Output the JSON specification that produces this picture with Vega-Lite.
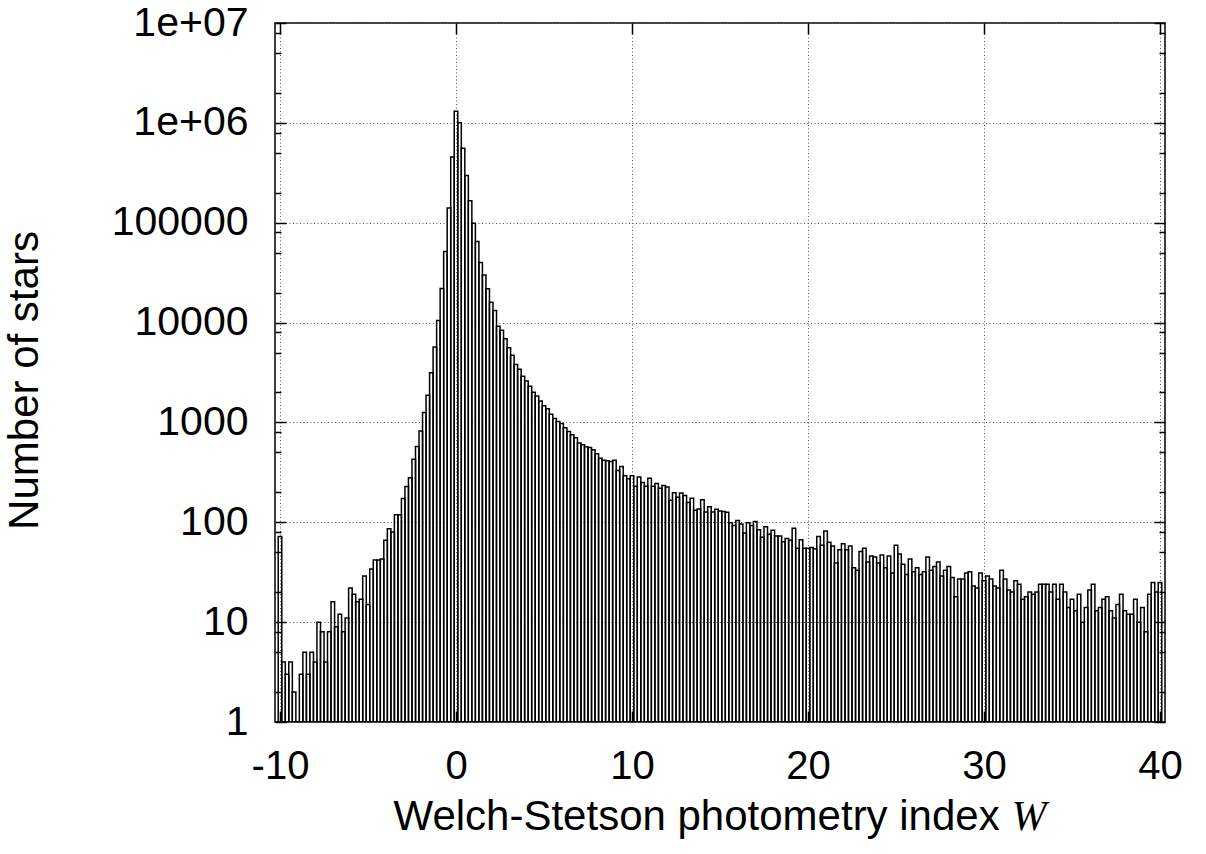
{
  "$schema": "https://vega.github.io/schema/vega-lite/v6.json",
  "width": 890,
  "height": 699,
  "autosize": {"type": "none"},
  "padding": {"left": 275, "top": 23, "right": 41, "bottom": 132},
  "background": "white",
  "data": {"values": [
    {"w": -10.0, "n": 72}, {"w": -9.8, "n": 4}, {"w": -9.6, "n": 3}, {"w": -9.4, "n": 4}, {"w": -9.2, "n": 2},
    {"w": -9.0, "n": 1}, {"w": -8.8, "n": 3}, {"w": -8.6, "n": 5}, {"w": -8.4, "n": 3}, {"w": -8.2, "n": 5},
    {"w": -8.0, "n": 4}, {"w": -7.8, "n": 10}, {"w": -7.6, "n": 8}, {"w": -7.4, "n": 4}, {"w": -7.2, "n": 8},
    {"w": -7.0, "n": 16}, {"w": -6.8, "n": 9}, {"w": -6.6, "n": 12}, {"w": -6.4, "n": 8}, {"w": -6.2, "n": 11},
    {"w": -6.0, "n": 22}, {"w": -5.8, "n": 19}, {"w": -5.6, "n": 16}, {"w": -5.4, "n": 17}, {"w": -5.2, "n": 29},
    {"w": -5.0, "n": 15}, {"w": -4.8, "n": 34}, {"w": -4.6, "n": 42}, {"w": -4.4, "n": 42}, {"w": -4.2, "n": 43},
    {"w": -4.0, "n": 66}, {"w": -3.8, "n": 86}, {"w": -3.6, "n": 80}, {"w": -3.4, "n": 119}, {"w": -3.2, "n": 119},
    {"w": -3.0, "n": 173}, {"w": -2.8, "n": 228}, {"w": -2.6, "n": 279}, {"w": -2.4, "n": 429}, {"w": -2.2, "n": 574},
    {"w": -2.0, "n": 819}, {"w": -1.8, "n": 1260}, {"w": -1.6, "n": 1870}, {"w": -1.4, "n": 3150}, {"w": -1.2, "n": 5700},
    {"w": -1.0, "n": 10500}, {"w": -0.8, "n": 22000}, {"w": -0.6, "n": 51500}, {"w": -0.4, "n": 140000}, {"w": -0.2, "n": 456000},
    {"w": 0.0, "n": 1310000}, {"w": 0.2, "n": 1000000}, {"w": 0.4, "n": 557000}, {"w": 0.6, "n": 297000}, {"w": 0.8, "n": 166000},
    {"w": 1.0, "n": 99000}, {"w": 1.2, "n": 65000}, {"w": 1.4, "n": 40000}, {"w": 1.6, "n": 30000}, {"w": 1.8, "n": 21800},
    {"w": 2.0, "n": 16000}, {"w": 2.2, "n": 13200}, {"w": 2.4, "n": 9200}, {"w": 2.6, "n": 8400}, {"w": 2.8, "n": 6900},
    {"w": 3.0, "n": 5600}, {"w": 3.2, "n": 4700}, {"w": 3.4, "n": 3800}, {"w": 3.6, "n": 3400}, {"w": 3.8, "n": 2900},
    {"w": 4.0, "n": 2600}, {"w": 4.2, "n": 2300}, {"w": 4.4, "n": 2000}, {"w": 4.6, "n": 1840}, {"w": 4.8, "n": 1640},
    {"w": 5.0, "n": 1470}, {"w": 5.2, "n": 1370}, {"w": 5.4, "n": 1210}, {"w": 5.6, "n": 1096}, {"w": 5.8, "n": 1023},
    {"w": 6.0, "n": 977}, {"w": 6.2, "n": 885}, {"w": 6.4, "n": 813}, {"w": 6.6, "n": 753}, {"w": 6.8, "n": 703},
    {"w": 7.0, "n": 621}, {"w": 7.2, "n": 598}, {"w": 7.4, "n": 571}, {"w": 7.6, "n": 562}, {"w": 7.8, "n": 533},
    {"w": 8.0, "n": 486}, {"w": 8.2, "n": 437}, {"w": 8.4, "n": 417}, {"w": 8.6, "n": 414}, {"w": 8.8, "n": 407},
    {"w": 9.0, "n": 417}, {"w": 9.2, "n": 331}, {"w": 9.4, "n": 363}, {"w": 9.6, "n": 293}, {"w": 9.8, "n": 273},
    {"w": 10.0, "n": 293}, {"w": 10.2, "n": 229}, {"w": 10.4, "n": 284}, {"w": 10.6, "n": 251}, {"w": 10.8, "n": 229},
    {"w": 11.0, "n": 276}, {"w": 11.2, "n": 229}, {"w": 11.4, "n": 244}, {"w": 11.6, "n": 219}, {"w": 11.8, "n": 233},
    {"w": 12.0, "n": 226}, {"w": 12.2, "n": 166}, {"w": 12.4, "n": 198}, {"w": 12.6, "n": 178}, {"w": 12.8, "n": 197},
    {"w": 13.0, "n": 185}, {"w": 13.2, "n": 158}, {"w": 13.4, "n": 174}, {"w": 13.6, "n": 132}, {"w": 13.8, "n": 136},
    {"w": 14.0, "n": 168}, {"w": 14.2, "n": 127}, {"w": 14.4, "n": 143}, {"w": 14.6, "n": 127}, {"w": 14.8, "n": 135},
    {"w": 15.0, "n": 130}, {"w": 15.2, "n": 128}, {"w": 15.4, "n": 126}, {"w": 15.6, "n": 99}, {"w": 15.8, "n": 93},
    {"w": 16.0, "n": 104}, {"w": 16.2, "n": 96}, {"w": 16.4, "n": 78}, {"w": 16.6, "n": 99}, {"w": 16.8, "n": 93},
    {"w": 17.0, "n": 102}, {"w": 17.2, "n": 84}, {"w": 17.4, "n": 71}, {"w": 17.6, "n": 90}, {"w": 17.8, "n": 76},
    {"w": 18.0, "n": 83}, {"w": 18.2, "n": 73}, {"w": 18.4, "n": 73}, {"w": 18.6, "n": 64}, {"w": 18.8, "n": 69},
    {"w": 19.0, "n": 66}, {"w": 19.2, "n": 87}, {"w": 19.4, "n": 55}, {"w": 19.6, "n": 67}, {"w": 19.8, "n": 55},
    {"w": 20.0, "n": 55}, {"w": 20.2, "n": 56}, {"w": 20.4, "n": 54}, {"w": 20.6, "n": 72}, {"w": 20.8, "n": 59},
    {"w": 21.0, "n": 82}, {"w": 21.2, "n": 63}, {"w": 21.4, "n": 58}, {"w": 21.6, "n": 39}, {"w": 21.8, "n": 53},
    {"w": 22.0, "n": 61}, {"w": 22.2, "n": 53}, {"w": 22.4, "n": 58}, {"w": 22.6, "n": 35}, {"w": 22.8, "n": 33},
    {"w": 23.0, "n": 51}, {"w": 23.2, "n": 55}, {"w": 23.4, "n": 40}, {"w": 23.6, "n": 46}, {"w": 23.8, "n": 45},
    {"w": 24.0, "n": 39}, {"w": 24.2, "n": 47}, {"w": 24.4, "n": 35}, {"w": 24.6, "n": 46}, {"w": 24.8, "n": 31},
    {"w": 25.0, "n": 59}, {"w": 25.2, "n": 48}, {"w": 25.4, "n": 38}, {"w": 25.6, "n": 30}, {"w": 25.8, "n": 43},
    {"w": 26.0, "n": 32}, {"w": 26.2, "n": 35}, {"w": 26.4, "n": 30}, {"w": 26.6, "n": 32}, {"w": 26.8, "n": 45},
    {"w": 27.0, "n": 33}, {"w": 27.2, "n": 36}, {"w": 27.4, "n": 40}, {"w": 27.6, "n": 29}, {"w": 27.8, "n": 33},
    {"w": 28.0, "n": 36}, {"w": 28.2, "n": 28}, {"w": 28.4, "n": 18}, {"w": 28.6, "n": 27}, {"w": 28.8, "n": 27},
    {"w": 29.0, "n": 31}, {"w": 29.2, "n": 32}, {"w": 29.4, "n": 23}, {"w": 29.6, "n": 22}, {"w": 29.8, "n": 31},
    {"w": 30.0, "n": 26}, {"w": 30.2, "n": 29}, {"w": 30.4, "n": 27}, {"w": 30.6, "n": 23}, {"w": 30.8, "n": 22},
    {"w": 31.0, "n": 33}, {"w": 31.2, "n": 27}, {"w": 31.4, "n": 21}, {"w": 31.6, "n": 20}, {"w": 31.8, "n": 26},
    {"w": 32.0, "n": 24}, {"w": 32.2, "n": 17}, {"w": 32.4, "n": 18}, {"w": 32.6, "n": 20}, {"w": 32.8, "n": 19},
    {"w": 33.0, "n": 20}, {"w": 33.2, "n": 24}, {"w": 33.4, "n": 24}, {"w": 33.6, "n": 24}, {"w": 33.8, "n": 20},
    {"w": 34.0, "n": 24}, {"w": 34.2, "n": 17}, {"w": 34.4, "n": 24}, {"w": 34.6, "n": 20}, {"w": 34.8, "n": 14},
    {"w": 35.0, "n": 17}, {"w": 35.2, "n": 13}, {"w": 35.4, "n": 19}, {"w": 35.6, "n": 10}, {"w": 35.8, "n": 14},
    {"w": 36.0, "n": 21}, {"w": 36.2, "n": 24}, {"w": 36.4, "n": 13}, {"w": 36.6, "n": 14}, {"w": 36.8, "n": 17},
    {"w": 37.0, "n": 18}, {"w": 37.2, "n": 13}, {"w": 37.4, "n": 11}, {"w": 37.6, "n": 15}, {"w": 37.8, "n": 19},
    {"w": 38.0, "n": 13}, {"w": 38.2, "n": 12}, {"w": 38.4, "n": 12}, {"w": 38.6, "n": 17}, {"w": 38.8, "n": 10},
    {"w": 39.0, "n": 14}, {"w": 39.2, "n": 8}, {"w": 39.4, "n": 19}, {"w": 39.6, "n": 25}, {"w": 39.8, "n": 20},
    {"w": 40.0, "n": 25}
  ]},
  "layer": [
    {
      "mark": {"type": "bar", "filled": false, "stroke": "black", "strokeWidth": 1.5, "width": 3.56, "clip": true},
      "encoding": {
        "x": {"field": "w", "type": "quantitative",
          "scale": {"domain": [-10, 40], "nice": false, "zero": false},
          "axis": {"orient": "bottom", "values": [-10, 0, 10, 20, 30, 40], "grid": true, "ticks": false, "tickSize": 0,
            "domain": false, "labelPadding": 56, "labelBaseline": "alphabetic", "labelFlush": false, "labelOverlap": false,
            "labelBound": false,
            "labelExpr": "datum.value < 0 ? '-' + abs(datum.value) : '' + datum.value",
            "title": "Welch-Stetson photometry index", "titleX": 118, "titleY": 107, "titleAlign": "left",
            "titleBaseline": "alphabetic", "titleAnchor": null}},
        "y": {"field": "n", "type": "quantitative",
          "scale": {"type": "log", "domain": [1, 10000000], "nice": false},
          "axis": {"orient": "left", "values": [1, 10, 100, 1000, 10000, 100000, 1000000, 10000000], "grid": true,
            "ticks": false, "tickSize": 0, "domain": false, "labelPadding": 27, "labelFlush": false, "labelOverlap": false,
            "labelBound": false, "labelFontSize": 41,
            "labelExpr": "datum.value >= 1000000 ? (datum.value >= 10000000 ? '1e+07' : '1e+06') : format(datum.value, 'd')",
            "title": "Number of stars", "titleX": -238, "titleY": 357, "titleAngle": -90, "titleAlign": "center",
            "titleBaseline": "alphabetic"}},
        "y2": {"datum": 1}
      }
    },
    {
      "mark": {"type": "point", "opacity": 0},
      "encoding": {
        "x": {"field": "w", "type": "quantitative", "scale": {"domain": [-10, 40], "nice": false, "zero": false},
          "axis": {"orient": "bottom", "values": [-10, 0, 10, 20, 30, 40], "labels": false, "ticks": true, "tickSize": -11,
            "grid": false, "domain": false, "title": null}},
        "y": {"field": "n", "type": "quantitative", "scale": {"type": "log", "domain": [1, 10000000], "nice": false},
          "axis": {"orient": "left", "values": [1, 10, 100, 1000, 10000, 100000, 1000000, 10000000], "labels": false,
            "ticks": true, "tickSize": -11, "grid": false, "domain": false, "title": null}}
      }
    },
    {
      "mark": {"type": "point", "opacity": 0},
      "encoding": {
        "x": {"field": "w", "type": "quantitative", "scale": {"domain": [-10, 40], "nice": false, "zero": false},
          "axis": {"orient": "top", "values": [-10, 0, 10, 20, 30, 40], "labels": false, "ticks": true, "tickSize": -11,
            "grid": false, "domain": false, "title": null}},
        "y": {"field": "n", "type": "quantitative", "scale": {"type": "log", "domain": [1, 10000000], "nice": false},
          "axis": {"orient": "right", "values": [1, 10, 100, 1000, 10000, 100000, 1000000, 10000000], "labels": false,
            "ticks": true, "tickSize": -11, "grid": false, "domain": false, "title": null}}
      }
    },
    {
      "mark": {"type": "point", "opacity": 0},
      "encoding": {
        "x": {"field": "w", "type": "quantitative", "scale": {"domain": [-10, 40], "nice": false, "zero": false}, "axis": null},
        "y": {"field": "n", "type": "quantitative", "scale": {"type": "log", "domain": [1, 10000000], "nice": false},
          "axis": {"orient": "left", "values": [2, 5, 8, 20, 50, 80, 200, 500, 800, 2000, 5000, 8000, 20000, 50000, 80000, 200000, 500000, 800000, 2000000, 5000000, 8000000],
            "labels": false, "ticks": true, "tickSize": -6, "grid": false, "domain": false, "title": null}}
      }
    },
    {
      "mark": {"type": "point", "opacity": 0},
      "encoding": {
        "x": {"field": "w", "type": "quantitative", "scale": {"domain": [-10, 40], "nice": false, "zero": false}, "axis": null},
        "y": {"field": "n", "type": "quantitative", "scale": {"type": "log", "domain": [1, 10000000], "nice": false},
          "axis": {"orient": "right", "values": [2, 5, 8, 20, 50, 80, 200, 500, 800, 2000, 5000, 8000, 20000, 50000, 80000, 200000, 500000, 800000, 2000000, 5000000, 8000000],
            "labels": false, "ticks": true, "tickSize": -6, "grid": false, "domain": false, "title": null}}
      }
    },
    {
      "mark": {"type": "point", "opacity": 0},
      "encoding": {
        "x": {"field": "w", "type": "quantitative", "scale": {"domain": [-10, 40], "nice": false, "zero": false},
          "axis": {"orient": "bottom", "labels": false, "ticks": false, "grid": false, "domain": false,
            "title": "W", "titleFont": "Liberation Serif", "titleFontStyle": "italic", "titleX": 736, "titleY": 107,
            "titleAlign": "left", "titleBaseline": "alphabetic"}},
        "y": {"field": "n", "type": "quantitative", "scale": {"type": "log", "domain": [1, 10000000], "nice": false}, "axis": null}
      }
    }
  ],
  "resolve": {"axis": {"x": "independent", "y": "independent"}},
  "config": {
    "view": {"stroke": "black", "strokeWidth": 1.5},
    "axis": {
      "labelFont": "Liberation Sans", "titleFont": "Liberation Sans", "labelColor": "black", "titleColor": "black",
      "labelFontSize": 40, "titleFontSize": 42, "titleFontWeight": "normal",
      "tickColor": "black", "tickWidth": 1.5,
      "gridColor": "#555555", "gridDash": [1, 2.5], "gridWidth": 1, "gridOpacity": 1
    }
  }
}
